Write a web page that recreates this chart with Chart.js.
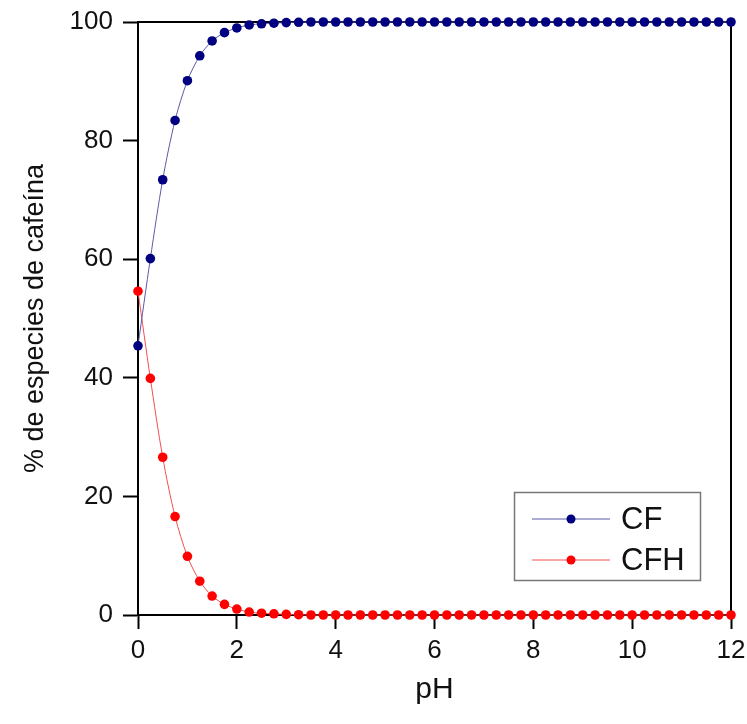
<!DOCTYPE html>
<html>
<head>
<meta charset="utf-8">
<script src="https://cdn.jsdelivr.net/npm/chart.js@4.4.1/dist/chart.umd.min.js"></script>
<style>
  html, body { margin: 0; padding: 0; background: #fff; }
  #wrap { width: 747px; height: 724px; }
</style>
</head>
<body>
<div id="wrap"><canvas id="chart" width="747" height="724"></canvas></div>
<script>
// pH values sampled every 0.25
const phValues = [
  0, 0.25, 0.5, 0.75, 1, 1.25, 1.5, 1.75, 2, 2.25, 2.5, 2.75,
  3, 3.25, 3.5, 3.75, 4, 4.25, 4.5, 4.75, 5, 5.25, 5.5, 5.75,
  6, 6.25, 6.5, 6.75, 7, 7.25, 7.5, 7.75, 8, 8.25, 8.5, 8.75,
  9, 9.25, 9.5, 9.75, 10, 10.25, 10.5, 10.75, 11, 11.25, 11.5, 11.75, 12
];

// % CF (free base)
const cfValues = [
  45.4, 60.1, 73.4, 83.4, 90.1, 94.3, 96.8, 98.2, 99.0, 99.5, 99.7, 99.8,
  99.9, 99.95, 100, 100, 100, 100, 100, 100, 100, 100, 100, 100,
  100, 100, 100, 100, 100, 100, 100, 100, 100, 100, 100, 100,
  100, 100, 100, 100, 100, 100, 100, 100, 100, 100, 100, 100, 100
];

// % CFH (protonated)
const cfhValues = [
  54.6, 39.9, 26.6, 16.6, 9.9, 5.7, 3.2, 1.8, 1.0, 0.5, 0.3, 0.2,
  0.1, 0.05, 0, 0, 0, 0, 0, 0, 0, 0, 0, 0,
  0, 0, 0, 0, 0, 0, 0, 0, 0, 0, 0, 0,
  0, 0, 0, 0, 0, 0, 0, 0, 0, 0, 0, 0, 0
];

const xTicks = [0, 2, 4, 6, 8, 10, 12];
const yTicks = [0, 20, 40, 60, 80, 100];

const FONT = '"Liberation Sans", Arial, sans-serif';
const BLUE = '#000080';
const RED = '#ff0000';

const toPoints = (vals) => vals.map((v, i) => ({ x: phValues[i], y: v }));

// top and right border of the plot box
const framePlugin = {
  id: 'frame',
  beforeDatasetsDraw(chart) {
    const { ctx, chartArea: a } = chart;
    ctx.save();
    ctx.strokeStyle = '#000';
    ctx.lineWidth = 2;
    ctx.beginPath();
    ctx.moveTo(a.left, a.top);
    ctx.lineTo(a.right, a.top);
    ctx.lineTo(a.right, a.bottom);
    ctx.stroke();
    ctx.restore();
  }
};

// legend box in the lower right corner
const boxLegend = {
  id: 'boxLegend',
  afterDraw(chart) {
    const { ctx } = chart;
    const x = 514, y = 492, w = 186, h = 88;
    ctx.save();
    ctx.fillStyle = '#fff';
    ctx.fillRect(x, y, w, h);
    ctx.strokeStyle = '#777';
    ctx.lineWidth = 1.5;
    ctx.strokeRect(x + 0.5, y + 0.5, w, h);

    const rows = [
      { label: 'CF', line: '#5a5aa8', dot: BLUE, cy: 519 },
      { label: 'CFH', line: '#f05050', dot: RED, cy: 560 }
    ];
    rows.forEach(r => {
      ctx.strokeStyle = r.line;
      ctx.lineWidth = 1;
      ctx.beginPath();
      ctx.moveTo(532, r.cy);
      ctx.lineTo(610, r.cy);
      ctx.stroke();
      ctx.fillStyle = r.dot;
      ctx.beginPath();
      ctx.arc(571, r.cy, 4.5, 0, Math.PI * 2);
      ctx.fill();
      ctx.fillStyle = '#111';
      ctx.font = '31px ' + FONT;
      ctx.textAlign = 'left';
      ctx.textBaseline = 'middle';
      ctx.fillText(r.label, 621, r.cy + 1);
    });
    ctx.restore();
  }
};

new Chart(document.getElementById('chart'), {
  type: 'line',
  data: {
    datasets: [
      {
        label: 'CF',
        data: toPoints(cfValues),
        borderColor: '#5a5aa8',
        borderWidth: 1,
        pointBackgroundColor: BLUE,
        pointBorderColor: BLUE,
        pointRadius: 4.8,
        pointBorderWidth: 0,
        tension: 0.3,
        clip: false
      },
      {
        label: 'CFH',
        data: toPoints(cfhValues),
        borderColor: '#f05050',
        borderWidth: 1,
        pointBackgroundColor: RED,
        pointBorderColor: RED,
        pointRadius: 4.8,
        pointBorderWidth: 0,
        tension: 0.3,
        clip: false
      }
    ]
  },
  options: {
    responsive: false,
    animation: false,
    layout: { padding: { top: 22, right: 16, left: 0, bottom: 0 } },
    plugins: {
      legend: { display: false },
      tooltip: { enabled: false }
    },
    scales: {
      x: {
        type: 'linear',
        min: 0,
        max: 12,
        afterBuildTicks: (s) => { s.ticks = xTicks.map(v => ({ value: v })); },
        afterFit: (s) => { s.height = 109; s.paddingLeft = 0; s.paddingRight = 0; },
        border: { color: '#000', width: 2 },
        grid: { drawOnChartArea: false, color: '#000', tickLength: 14, tickWidth: 2 },
        ticks: { color: '#111', font: { family: FONT, size: 26 }, padding: 6, maxRotation: 0 },
        title: {
          display: true,
          text: 'pH',
          color: '#111',
          font: { family: FONT, size: 30 },
          padding: { top: 0, bottom: 16 }
        }
      },
      y: {
        min: 0,
        max: 100,
        afterBuildTicks: (s) => { s.ticks = yTicks.map(v => ({ value: v })); },
        afterFit: (s) => { s.width = 138; s.paddingTop = 0; s.paddingBottom = 0; },
        border: { color: '#000', width: 2 },
        grid: { drawOnChartArea: false, color: '#000', tickLength: 15, tickWidth: 2 },
        ticks: { color: '#111', font: { family: FONT, size: 26 }, padding: 10 },
        title: {
          display: true,
          text: '% de especies de cafeína',
          color: '#111',
          font: { family: FONT, size: 27 },
          padding: { top: 19, bottom: 0 }
        }
      }
    }
  },
  plugins: [framePlugin, boxLegend]
});
</script>
</body>
</html>
